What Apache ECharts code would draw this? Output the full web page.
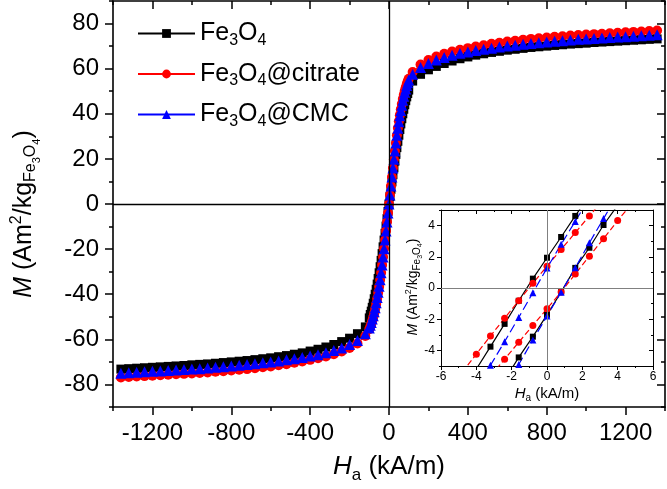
<!DOCTYPE html>
<html>
<head>
<meta charset="utf-8">
<script src="https://cdn.jsdelivr.net/npm/echarts@6/dist/echarts.min.js"></script>
<style>
  html, body { margin: 0; padding: 0; background: #fff; }
  #chart { width: 667px; height: 489px; }
</style>
</head>
<body>
<div id="chart"></div>
<script>
// main loop, H in kA/m
var hNeg = [-1360,-1320,-1280,-1240,-1200,-1160,-1120,-1080,-1040,-1000,-960,-920,-880,-840,-800,-760,-720,-680,-640,-600,-560,-520,-480,-440,-400,-360,-320,-280,-240,-200,-160,-120,
  -100,-95,-90,-85,-80,-75,-70,-65,-60,-55,-50,-45,-40,-35,-30,-25,-20,-15,-10,-5];
var hPos = [0,5,10,15,20,25,30,35,40,45,50,55,60,65,70,75,80,85,90,95,100,
  120,160,200,240,280,320,360,400,440,480,520,560,600,640,680,720,760,800,840,880,920,960,1000,1040,1080,1120,1160,1200,1240,1280,1320,1360];

var mBareNeg = [-73.2,-73,-72.8,-72.6,-72.4,-72.2,-72,-71.8,-71.6,-71.3,-71.1,-70.9,-70.6,-70.3,-70,-69.7,-69.4,-69,-68.6,-68.2,-67.7,-67.2,-66.6,-66,-65.2,-64.4,-63.4,-62.3,-61,-59.5,-57.5,-54.5,
  -50.5,-49,-47.5,-45.8,-44,-42,-40,-37.8,-35.5,-33,-30.5,-27.8,-25,-22,-19,-16,-13,-9.8,-6.5,-3.3];
var mBarePos = [0,3.3,6.5,9.8,13,16,19,22,25,27.8,30.5,33,35.5,37.8,40,42,44,45.8,47.5,49,50.5,
  54.5,57.5,59.5,61,62.3,63.4,64.4,65.2,66,66.6,67.2,67.7,68.2,68.6,69,69.4,69.7,70,70.3,70.6,70.9,71.1,71.3,71.6,71.8,72,72.2,72.4,72.6,72.8,73,73.2];

var mCitrateNeg = [-76.9,-76.7,-76.5,-76.3,-76.1,-75.9,-75.7,-75.5,-75.3,-75.1,-74.9,-74.7,-74.4,-74.1,-73.8,-73.5,-73.2,-72.8,-72.4,-72,-71.5,-71,-70.4,-69.8,-69.1,-68.4,-67.6,-66.6,-65.4,-63.8,-61.8,-58.5,
  -55.5,-54.4,-53.2,-51.8,-50.2,-48.4,-46.5,-44.3,-42,-39.4,-36.7,-33.7,-30.5,-27,-23.5,-19.8,-16,-12,-8,-4];
var mCitratePos = [0,4,8,12,16,19.8,23.5,27,30.5,33.7,36.7,39.4,42,44.3,46.5,48.4,50.2,51.8,53.2,54.4,55.5,
  58.5,61.8,63.8,65.4,66.6,67.6,68.4,69.1,69.8,70.4,71,71.5,72,72.4,72.8,73.2,73.5,73.8,74.1,74.4,74.7,74.9,75.1,75.3,75.5,75.7,75.9,76.1,76.3,76.5,76.7,76.9];

var mCmcNeg = [-75,-74.8,-74.6,-74.4,-74.2,-74,-73.8,-73.6,-73.4,-73.2,-73,-72.7,-72.4,-72.1,-71.8,-71.5,-71.2,-70.8,-70.4,-70,-69.6,-69.1,-68.6,-68,-67.4,-66.8,-66,-65,-63.8,-62.3,-60.5,-57.5,
  -55,-53.8,-52.5,-51,-49.5,-47.8,-46,-43.8,-41.5,-39.1,-36.5,-33.6,-30.5,-27,-23.5,-19.8,-16,-12,-8,-4];
var mCmcPos = [0,4,8,12,16,19.8,23.5,27,30.5,33.6,36.5,39.1,41.5,43.8,46,47.8,49.5,51,52.5,53.8,55,
  57.5,60.5,62.3,63.8,65,66,66.8,67.4,68,68.6,69.1,69.6,70,70.4,70.8,71.2,71.5,71.8,72.1,72.4,72.7,73,73.2,73.4,73.6,73.8,74,74.2,74.4,74.6,74.8,75];

// inset, low-field branches (descending / ascending)
var hBareDown = [-4,-3.2,-2.4,-1.6,-0.8,0,0.8,1.6,2.4];
var mBareDown = [-5.2,-3.76,-2.3,-0.82,0.6,1.94,3.27,4.62,5.95];
var hBareUp = [-2.4,-1.6,-0.8,0,0.8,1.6,2.4,3.2,4];
var mBareUp = [-5.9,-4.45,-3.12,-1.72,-0.26,1.29,2.58,4.04,5.3];
var hCitrateDown = [-4.8,-4,-3.2,-2.4,-1.6,-0.8,0,0.8,1.6,2.4,3.2];
var mCitrateDown = [-5.4,-4.24,-3.07,-1.94,-0.82,0.3,1.4,2.47,3.55,4.62,5.7];
var hCitrateUp = [-3.2,-2.4,-1.6,-0.8,0,0.8,1.6,2.4,3.2,4,4.8];
var mCitrateUp = [-5.65,-4.56,-3.48,-2.4,-1.33,-0.25,0.9,2.04,3.16,4.32,5.4];
var hCmcDown = [-4,-3.2,-2.4,-1.6,-0.8,0,0.8,1.6,2.4];
var mCmcDown = [-6.4,-4.95,-3.44,-1.89,-0.3,1.28,2.8,4.27,5.8];
var hCmcUp = [-2.4,-1.6,-0.8,0,0.8,1.6,2.4,3.2,4];
var mCmcUp = [-6.4,-4.9,-3.33,-1.8,-0.27,1.3,2.9,4.45,6];

var xMajor = [-1200,-800,-400,0,400,800,1200];
var xMinor = [-1400,-1000,-600,-200,200,600,1000,1400];
var yMajor = [-80,-60,-40,-20,0,20,40,60,80];
var yMinor = [-90,-70,-50,-30,-10,10,30,50,70,90];
var yInsetMajor = [-4,-2,0,2,4];
var yInsetMinor = [-5,-3,-1,1,3,5];

var names = ['Fe3O4', 'Fe3O4@citrate', 'Fe3O4@CMC'];
var colors = ['#000000', '#ff0000', '#0000ff'];
var FONT = 'Liberation Sans, Arial, sans-serif';

function pairs(h, m) {
  return h.map(function (v, i) { return [v, m[i]]; });
}
function plain(v) { return String(v); }

var hAll = hNeg.concat(hPos);

function tickAxis(extra) {
  var a = {
    type: 'value',
    axisLine: { show: false, onZero: false },
    axisTick: { show: true, lineStyle: { color: '#000', width: 1.5 } },
    axisLabel: { show: false },
    splitLine: { show: false }
  };
  for (var k in extra) {
    if (k === 'axisTick' || k === 'axisLine' || k === 'axisLabel') {
      a[k] = Object.assign({}, a[k], extra[k]);
    } else {
      a[k] = extra[k];
    }
  }
  return a;
}

var chart = echarts.init(document.getElementById('chart'), null, { renderer: 'canvas' });

var blackLine = { show: true, onZero: false, lineStyle: { color: '#000', width: 1.6 } };
var thinLine = { show: true, onZero: false, lineStyle: { color: '#000', width: 1 } };

var option = {
  animation: false,
  backgroundColor: '#fff',
  grid: [
    { left: 113, right: 2, top: 1, bottom: 82 },
    { left: 441, right: 14, top: 210, bottom: 123 }
  ],
  legend: {
    data: names,
    orient: 'vertical',
    left: 132,
    top: 16,
    itemWidth: 57,
    itemHeight: 11,
    itemGap: 13,
    formatter: function (name) {
      var tail = name.replace('Fe3O4', '');
      return '{a|Fe}{s|3}{a|O}{s|4}' + (tail ? '{a|' + tail + '}' : '');
    },
    textStyle: {
      color: '#000',
      fontFamily: FONT,
      rich: {
        a: { fontSize: 25, fontFamily: FONT, color: '#000' },
        s: { fontSize: 16, fontFamily: FONT, color: '#000', padding: [14, 0, 0, 0] }
      }
    }
  },
  xAxis: [
    tickAxis({ gridIndex: 0, min: -1400, max: 1400, position: 'bottom',
      axisLine: blackLine,
      axisTick: { length: 8, customValues: xMajor },
      axisLabel: { show: true, customValues: xMajor, formatter: plain, fontSize: 24, fontFamily: FONT, color: '#000', margin: 14 } }),
    tickAxis({ gridIndex: 0, min: -1400, max: 1400, position: 'bottom',
      axisTick: { length: 4, customValues: xMinor } }),
    tickAxis({ gridIndex: 0, min: -1400, max: 1400, position: 'top',
      axisLine: blackLine,
      axisTick: { length: 8, inside: true, customValues: xMajor } }),
    tickAxis({ gridIndex: 0, min: -1400, max: 1400, position: 'top',
      axisTick: { length: 4, inside: true, customValues: xMinor } }),
    tickAxis({ gridIndex: 1, min: -6, max: 6, interval: 2, position: 'bottom',
      axisLine: thinLine,
      axisTick: { length: 4, lineStyle: { color: '#000', width: 1 } },
      minorTick: { show: true, splitNumber: 2, length: 2, lineStyle: { color: '#000', width: 1 } },
      axisLabel: { show: true, formatter: plain, fontSize: 12, fontFamily: FONT, color: '#000', margin: 5 } }),
    tickAxis({ gridIndex: 1, min: -6, max: 6, interval: 2, position: 'top',
      axisLine: thinLine,
      axisTick: { length: 4, inside: true, lineStyle: { color: '#000', width: 1 } },
      minorTick: { show: true, splitNumber: 2, length: 2, lineStyle: { color: '#000', width: 1 } } })
  ],
  yAxis: [
    tickAxis({ gridIndex: 0, min: -90, max: 90, position: 'left',
      axisLine: blackLine,
      axisTick: { length: 8, customValues: yMajor },
      axisLabel: { show: true, customValues: yMajor, formatter: plain, fontSize: 24, fontFamily: FONT, color: '#000', margin: 14 } }),
    tickAxis({ gridIndex: 0, min: -90, max: 90, position: 'left',
      axisTick: { length: 4, customValues: yMinor } }),
    tickAxis({ gridIndex: 0, min: -90, max: 90, position: 'right',
      axisLine: blackLine,
      axisTick: { length: 8, inside: true, customValues: yMajor } }),
    tickAxis({ gridIndex: 0, min: -90, max: 90, position: 'right',
      axisTick: { length: 4, inside: true, customValues: yMinor } }),
    tickAxis({ gridIndex: 1, min: -5, max: 5, position: 'left',
      axisLine: thinLine,
      axisTick: { length: 4, customValues: yInsetMajor, lineStyle: { color: '#000', width: 1 } },
      axisLabel: { show: true, customValues: yInsetMajor, formatter: plain, fontSize: 12, fontFamily: FONT, color: '#000', margin: 6 } }),
    tickAxis({ gridIndex: 1, min: -5, max: 5, position: 'left',
      axisTick: { length: 2, customValues: yInsetMinor, lineStyle: { color: '#000', width: 1 } } }),
    tickAxis({ gridIndex: 1, min: -5, max: 5, position: 'right',
      axisLine: thinLine,
      axisTick: { length: 4, inside: true, customValues: yInsetMajor, lineStyle: { color: '#000', width: 1 } } }),
    tickAxis({ gridIndex: 1, min: -5, max: 5, position: 'right',
      axisTick: { length: 2, inside: true, customValues: yInsetMinor, lineStyle: { color: '#000', width: 1 } } })
  ],
  graphic: [
    { type: 'text', x: 24, y: 214, rotation: Math.PI / 2,
      style: { text: '{i|M}{n| (Am}{p|2}{n|/kg}{b|Fe}{c|3}{b|O}{c|4}{n|)}',
        align: 'center', verticalAlign: 'middle',
        rich: {
          i: { fontSize: 25, fontFamily: FONT, fontStyle: 'italic', fill: '#000' },
          n: { fontSize: 25, fontFamily: FONT, fill: '#000' },
          p: { fontSize: 16, fontFamily: FONT, fill: '#000', padding: [0, 0, 14, 0] },
          b: { fontSize: 16, fontFamily: FONT, fill: '#000', padding: [14, 0, 0, 0] },
          c: { fontSize: 11, fontFamily: FONT, fill: '#000', padding: [26, 0, 0, 0] }
        } } },
    { type: 'text', x: 389, y: 467,
      style: { text: '{i|H}{b|a}{n| (kA/m)}', align: 'center', verticalAlign: 'middle',
        rich: {
          i: { fontSize: 26, fontFamily: FONT, fontStyle: 'italic', fill: '#000' },
          n: { fontSize: 26, fontFamily: FONT, fill: '#000' },
          b: { fontSize: 17, fontFamily: FONT, fill: '#000', padding: [16, 0, 0, 0] }
        } } },
    { type: 'text', x: 413, y: 287, rotation: Math.PI / 2,
      style: { text: '{i|M}{n| (Am}{p|2}{n|/kg}{b|Fe}{c|3}{b|O}{c|4}{n|)}',
        align: 'center', verticalAlign: 'middle',
        rich: {
          i: { fontSize: 14, fontFamily: FONT, fontStyle: 'italic', fill: '#000' },
          n: { fontSize: 14, fontFamily: FONT, fill: '#000' },
          p: { fontSize: 9, fontFamily: FONT, fill: '#000', padding: [0, 0, 8, 0] },
          b: { fontSize: 10, fontFamily: FONT, fill: '#000', padding: [8, 0, 0, 0] },
          c: { fontSize: 7, fontFamily: FONT, fill: '#000', padding: [14, 0, 0, 0] }
        } } },
    { type: 'text', x: 547, y: 394,
      style: { text: '{i|H}{b|a}{n| (kA/m)}', align: 'center', verticalAlign: 'middle',
        rich: {
          i: { fontSize: 15, fontFamily: FONT, fontStyle: 'italic', fill: '#000' },
          n: { fontSize: 15, fontFamily: FONT, fill: '#000' },
          b: { fontSize: 10, fontFamily: FONT, fill: '#000', padding: [9, 0, 0, 0] }
        } } }
  ],
  series: [
    { name: names[0], type: 'line', xAxisIndex: 0, yAxisIndex: 0,
      data: pairs(hAll, mBareNeg.concat(mBarePos)),
      symbol: 'rect', symbolSize: 9, color: colors[0],
      lineStyle: { color: colors[0], width: 1 },
      markLine: { silent: true, symbol: 'none', label: { show: false },
        lineStyle: { color: '#000', width: 1.3, type: 'solid' },
        data: [{ xAxis: 0 }, { yAxis: 0 }] } },
    { name: names[1], type: 'line', xAxisIndex: 0, yAxisIndex: 0,
      data: pairs(hAll, mCitrateNeg.concat(mCitratePos)),
      symbol: 'circle', symbolSize: 10, color: colors[1],
      lineStyle: { color: colors[1], width: 1 } },
    { name: names[2], type: 'line', xAxisIndex: 0, yAxisIndex: 0,
      data: pairs(hAll, mCmcNeg.concat(mCmcPos)),
      symbol: 'triangle', symbolSize: 11, color: colors[2],
      lineStyle: { color: colors[2], width: 1 } },

    { name: 'bare down', type: 'line', xAxisIndex: 4, yAxisIndex: 4,
      data: pairs(hBareDown, mBareDown), symbol: 'rect', symbolSize: 6, color: colors[0],
      lineStyle: { color: colors[0], width: 1.2 },
      markLine: { silent: true, symbol: 'none', label: { show: false },
        lineStyle: { color: '#808080', width: 1, type: 'solid' },
        data: [{ xAxis: 0 }, { yAxis: 0 }] } },
    { name: 'bare up', type: 'line', xAxisIndex: 4, yAxisIndex: 4,
      data: pairs(hBareUp, mBareUp), symbol: 'rect', symbolSize: 6, color: colors[0],
      lineStyle: { color: colors[0], width: 1.2 } },
    { name: 'citrate down', type: 'line', xAxisIndex: 4, yAxisIndex: 4,
      data: pairs(hCitrateDown, mCitrateDown), symbol: 'circle', symbolSize: 7, color: colors[1],
      lineStyle: { color: colors[1], width: 1.2, type: [6, 3] } },
    { name: 'citrate up', type: 'line', xAxisIndex: 4, yAxisIndex: 4,
      data: pairs(hCitrateUp, mCitrateUp), symbol: 'circle', symbolSize: 7, color: colors[1],
      lineStyle: { color: colors[1], width: 1.2, type: [6, 3] } },
    { name: 'cmc down', type: 'line', xAxisIndex: 4, yAxisIndex: 4,
      data: pairs(hCmcDown, mCmcDown), symbol: 'triangle', symbolSize: 7, color: colors[2],
      lineStyle: { color: colors[2], width: 1.2, type: [9, 4] } },
    { name: 'cmc up', type: 'line', xAxisIndex: 4, yAxisIndex: 4,
      data: pairs(hCmcUp, mCmcUp), symbol: 'triangle', symbolSize: 7, color: colors[2],
      lineStyle: { color: colors[2], width: 1.2, type: [9, 4] } }
  ]
};

chart.setOption(option);
</script>
</body>
</html>
